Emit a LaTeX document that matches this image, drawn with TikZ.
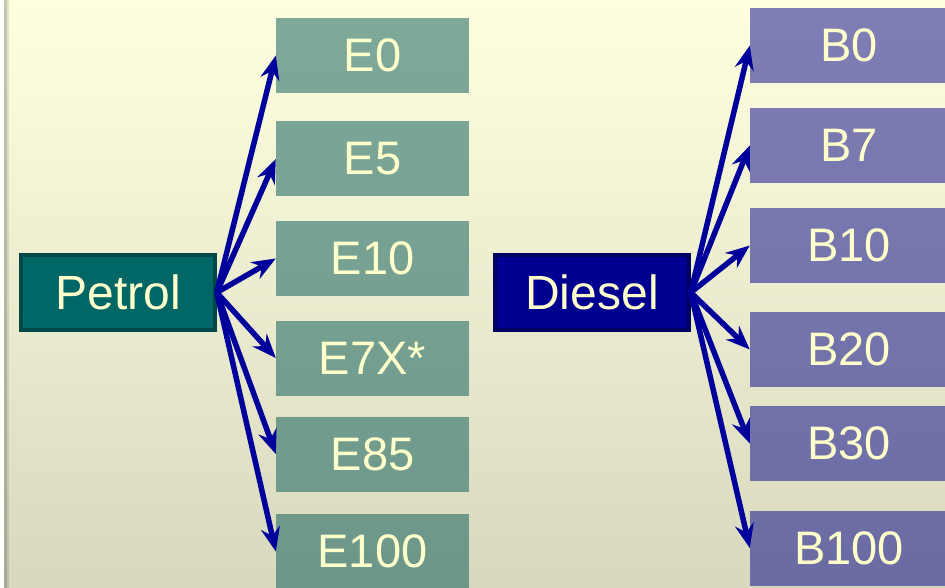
\documentclass[tikz,border=0pt]{standalone}
\usepackage{fontspec}
\setmainfont{Liberation Sans}
\usetikzlibrary{arrows.meta}
\definecolor{bgtop}{RGB}{255,255,224}
\definecolor{bgbot}{RGB}{216,216,190}
\definecolor{txt}{RGB}{255,255,204}
\definecolor{petrolc}{RGB}{0,102,102}
\definecolor{petrolb}{RGB}{0,72,72}
\definecolor{dieselc}{RGB}{0,0,144}
\definecolor{dieselb}{RGB}{0,0,96}
\definecolor{ebase}{RGB}{0,86,86}
\definecolor{bbase}{RGB}{0,0,140}
\definecolor{arrowc}{RGB}{0,0,155}
\tikzset{
  srcbox/.style={draw=#1b, fill=#1c, line width=3.5pt, minimum width=194pt, minimum height=75pt,
     inner sep=0pt, text=txt, font=\fontsize{48}{50}\selectfont},
  ebox/.style={fill=ebase, fill opacity=0.5, text opacity=1, minimum width=193pt, minimum height=75pt,
     inner sep=0pt, text=txt, font=\fontsize{47}{48}\selectfont},
  bbox/.style={fill=bbase, fill opacity=0.5, text opacity=1, minimum width=198pt, minimum height=75pt,
     inner sep=0pt, text=txt, font=\fontsize{47}{48}\selectfont},
  conn/.style={draw=arrowc, line width=5.5pt, -{Stealth[length=24pt,width=19pt,inset=8pt]}}
}
\begin{document}
\begin{tikzpicture}[x=1pt,y=-1pt]
\useasboundingbox (0,0) rectangle (945,588);
\shade[top color=bgtop, bottom color=bgbot] (0,0) rectangle (945,588);
\fill[white] (0,0) rectangle (4,588);
\fill[black, opacity=0.22] (4,0) rectangle (6.5,588);
\fill[black, opacity=0.1] (6.5,0) rectangle (9,588);

\node[srcbox=petrol] (petrol) at (118,292.5) {Petrol};
\node[srcbox=diesel] (diesel) at (592,292.5) {Diesel};

\node[ebox] (e0) at (372.5,55.5) {E0};
\node[ebox] (e5) at (372.5,159) {E5};
\node[ebox] (e10) at (372.5,258.5) {E10};
\node[ebox] (e7x) at (372.5,358) {E7X*};
\node[ebox] (e85) at (372.5,454) {E85};
\node[ebox] (e100) at (372.5,551.5) {E100};

\node[bbox] (b0) at (849,45.5) {B0};
\node[bbox] (b7) at (849,145.5) {B7};
\node[bbox] (b10) at (849,245.5) {B10};
\node[bbox] (b20) at (849,349.5) {B20};
\node[bbox] (b30) at (849,443.5) {B30};
\node[bbox] (b100) at (849,548) {B100};

\foreach \t in {e0,e5,e10,e7x,e85,e100}
  \draw[conn] (petrol.east) -- (\t.west);
\foreach \t in {b0,b7,b10,b20,b30,b100}
  \draw[conn] (diesel.east) -- (\t.west);
\end{tikzpicture}
\end{document}
